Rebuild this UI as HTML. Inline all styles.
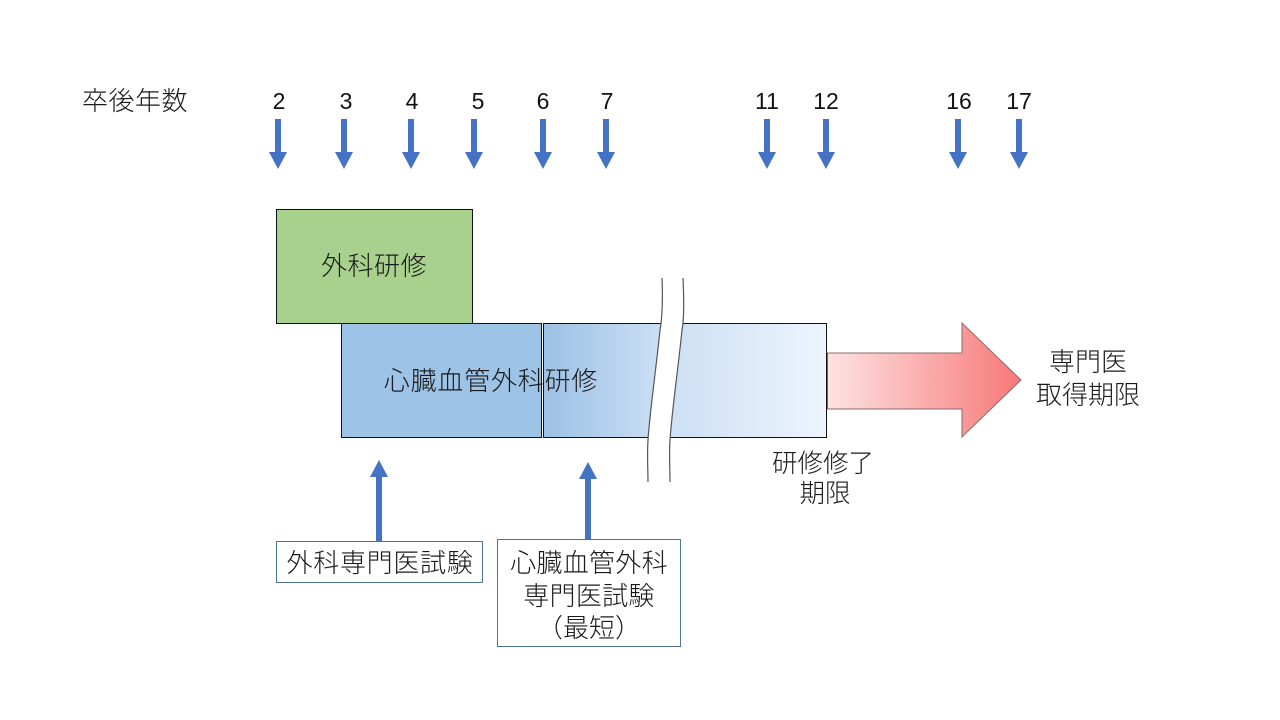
<!DOCTYPE html>
<html>
<head>
<meta charset="utf-8">
<style>
  html, body { margin:0; padding:0; background:#ffffff; }
  svg { display:block; }
  .jp { font-family: "Liberation Sans", "Noto Sans CJK JP", sans-serif; fill:#1a1a1a; font-weight:300; }
  .num { font-family: "Liberation Sans", sans-serif; fill:#111; font-size:23px; }
</style>
</head>
<body>
<svg width="1280" height="720" viewBox="0 0 1280 720" xmlns="http://www.w3.org/2000/svg">
  <defs>
    <linearGradient id="blueGrad" x1="0" y1="0" x2="1" y2="0">
      <stop offset="0" stop-color="#9cc1e5"/>
      <stop offset="0.4" stop-color="#cadef4"/>
      <stop offset="1" stop-color="#edf4fd"/>
    </linearGradient>
    <linearGradient id="redGrad" x1="0" y1="0" x2="1" y2="0">
      <stop offset="0" stop-color="#fde2e2"/>
      <stop offset="0.6" stop-color="#faa3a3"/>
      <stop offset="1" stop-color="#f77878"/>
    </linearGradient>
    <g id="down">
      <rect x="-3" y="0" width="6" height="34" fill="#4472c4"/>
      <polygon points="-9,33 9,33 0,50" fill="#4472c4"/>
    </g>
  </defs>

  <!-- Header -->
  <text class="jp" x="82" y="110" font-size="26" letter-spacing="0.5">卒後年数</text>

  <!-- Year numbers -->
  <g class="num" text-anchor="middle">
    <text x="279" y="109">2</text>
    <text x="346" y="109">3</text>
    <text x="412" y="109">4</text>
    <text x="478" y="109">5</text>
    <text x="543" y="109">6</text>
    <text x="607" y="109">7</text>
    <text x="767" y="109">11</text>
    <text x="826" y="109">12</text>
    <text x="959" y="109">16</text>
    <text x="1019" y="109">17</text>
  </g>

  <!-- Down arrows -->
  <use href="#down" x="278" y="119"/>
  <use href="#down" x="344" y="119"/>
  <use href="#down" x="411" y="119"/>
  <use href="#down" x="474" y="119"/>
  <use href="#down" x="543" y="119"/>
  <use href="#down" x="606" y="119"/>
  <use href="#down" x="767" y="119"/>
  <use href="#down" x="826" y="119"/>
  <use href="#down" x="958" y="119"/>
  <use href="#down" x="1019" y="119"/>

  <!-- Green box -->
  <rect x="276.5" y="209.5" width="196" height="114" fill="#a9d18e" stroke="#111" stroke-width="1"/>
  <text class="jp" x="374" y="275" font-size="26" text-anchor="middle" letter-spacing="0.5">外科研修</text>

  <!-- Blue boxes -->
  <rect x="341.5" y="323.5" width="200" height="114" fill="#9dc3e6" stroke="#111" stroke-width="1"/>
  <rect x="543.5" y="323.5" width="283" height="114" fill="url(#blueGrad)" stroke="#111" stroke-width="1"/>
  <text class="jp" x="491" y="390" font-size="26" text-anchor="middle" letter-spacing="0.8">心臓血管外科研修</text>

  <!-- Break mark -->
  <path d="M662,278 C663,300 662,320 660,330 C656,370 650,410 648,440 C647,455 648,470 648,482
           L670,482 C670,470 669,455 670,440 C672,410 678,370 682,330 C684,320 684,300 683,278 Z"
        fill="#ffffff" stroke="none"/>
  <path d="M662,278 C663,300 662,320 660,330 C656,370 650,410 648,440 C647,455 648,470 648,482"
        fill="none" stroke="#555" stroke-width="1.2"/>
  <path d="M683,278 C684,300 684,320 682,330 C678,370 672,410 670,440 C669,455 670,470 670,482"
        fill="none" stroke="#555" stroke-width="1.2"/>

  <!-- Red arrow -->
  <polygon points="827,353 962,353 962,323 1021,380 962,437 962,409 827,409"
           fill="url(#redGrad)" stroke="#8a6a6a" stroke-width="1"/>
  <line x1="827" y1="353" x2="827" y2="409" stroke="#111" stroke-width="1.2"/>

  <!-- Right labels -->
  <text class="jp" x="1088" y="371" font-size="26" text-anchor="middle">専門医</text>
  <text class="jp" x="1088" y="404" font-size="26" text-anchor="middle">取得期限</text>

  <text class="jp" x="823" y="472" font-size="25.5" text-anchor="middle">研修修了</text>
  <text class="jp" x="825" y="502" font-size="25.5" text-anchor="middle">期限</text>

  <!-- Up arrows -->
  <rect x="376" y="476" width="6" height="65" fill="#4472c4"/>
  <polygon points="370,477 388,477 379,460" fill="#4472c4"/>
  <rect x="585" y="478" width="6" height="61" fill="#4472c4"/>
  <polygon points="579,479 597,479 588,462" fill="#4472c4"/>

  <!-- Exam boxes -->
  <rect x="276.5" y="541.5" width="206" height="41" fill="#ffffff" stroke="#4d7199" stroke-width="1"/>
  <text class="jp" x="380" y="572" font-size="26" text-anchor="middle" letter-spacing="0.7">外科専門医試験</text>

  <rect x="497.5" y="539.5" width="183" height="107" fill="#ffffff" stroke="#4d7199" stroke-width="1"/>
  <text class="jp" x="589" y="572" font-size="26" text-anchor="middle" letter-spacing="0.3">心臓血管外科</text>
  <text class="jp" x="589" y="605" font-size="26" text-anchor="middle" letter-spacing="0.3">専門医試験</text>
  <text class="jp" x="589" y="637" font-size="26" text-anchor="middle">（最短）</text>
</svg>
</body>
</html>
